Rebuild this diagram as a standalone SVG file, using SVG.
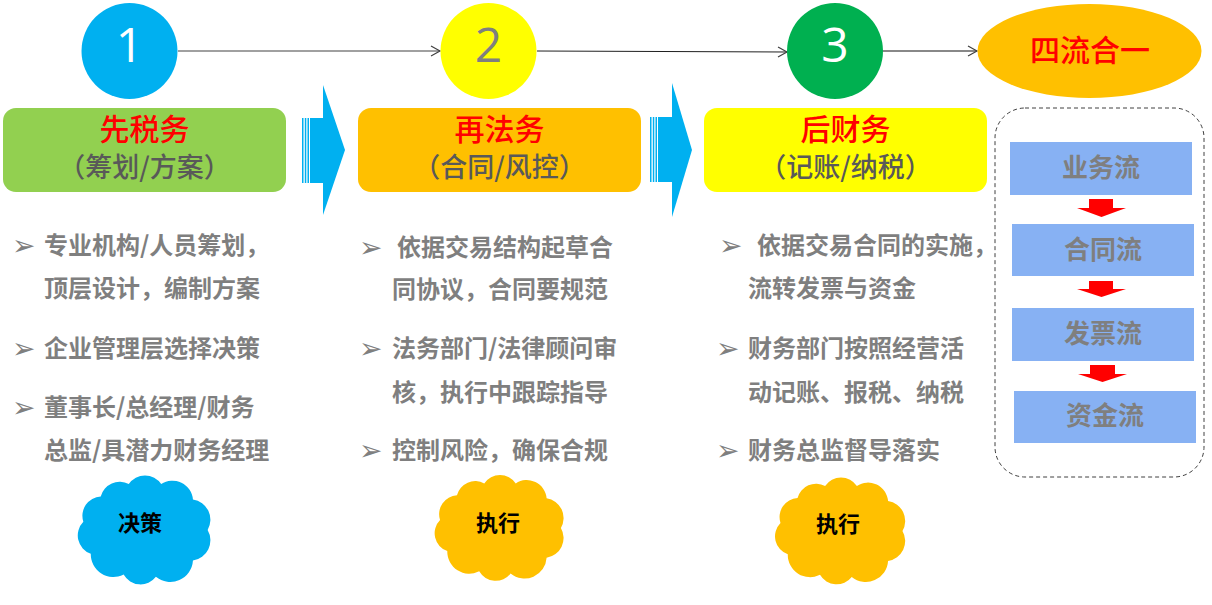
<svg xmlns="http://www.w3.org/2000/svg" width="1212" height="605" viewBox="0 0 1212 605">
<style>
.cjk{font-family:"Noto Sans CJK SC","Noto Sans",sans-serif}
.num{font-family:"Open Sans","Liberation Sans",sans-serif;font-size:48px;text-anchor:middle}
.t1{font-size:30px;font-weight:500;fill:#FF0000;text-anchor:middle}
.t2{font-size:27px;font-weight:500;fill:#595959;text-anchor:middle}
.b{font-size:24px;font-weight:bold;fill:#7F7F7F}
.bul{font-family:"DejaVu Sans",sans-serif;font-size:28px;fill:#7F7F7F}
.flow{fill:#87B1F3}
.ft{font-size:26px;font-weight:bold;fill:#7F7F7F;text-anchor:middle}
.ct{font-size:22px;font-weight:bold;fill:#000;text-anchor:middle}
.blue{fill:#00B0F0}
.red{fill:#FF0000}
</style>
<defs>
<marker id="ah" markerWidth="12" markerHeight="12" refX="10" refY="6" orient="auto" markerUnits="userSpaceOnUse">
<path d="M1,1 L10,6 L1,11" fill="none" stroke="#404040" stroke-width="1.2"/>
</marker>
<path id="cloud" d="M-57.1,-7.6 A18,18 0 0 1 -41,-31.1 A18,18 0 0 1 -15,-42.5 A18,18 0 0 1 15,-42.5 A19,19 0 0 1 44.4,-28.3 A19,19 0 0 1 58,0 A19,19 0 0 1 44.4,28.3 A21,21 0 0 1 10.1,43.3 A18,18 0 0 1 -19.8,41.3 A21,21 0 0 1 -50.2,22 A18,18 0 0 1 -57.1,-7.6 Z"/>
</defs>

<g id="connectors">
<line x1="178" y1="51" x2="440" y2="51" stroke="#808080" stroke-width="1.5" marker-end="url(#ah)"/>
<line x1="537" y1="51" x2="787" y2="52" stroke="#202020" stroke-width="1" marker-end="url(#ah)"/>
<line x1="883" y1="51" x2="977" y2="51" stroke="#606060" stroke-width="1.5" marker-end="url(#ah)"/>
</g>

<g id="circle1">
<circle cx="129.5" cy="51" r="48" fill="#00B0F0"/>
<text class="num" x="129.5" y="62" fill="#FFFFFF">1</text>
</g>
<g id="circle2">
<circle cx="488.5" cy="51" r="48" fill="#FFFF00"/>
<text class="num" x="488.5" y="62" fill="#7F7F7F">2</text>
</g>
<g id="circle3">
<circle cx="835" cy="51" r="48" fill="#00B050"/>
<text class="num" x="835" y="62" fill="#FFFFFF">3</text>
</g>
<g id="oval">
<ellipse cx="1089.5" cy="51" rx="112" ry="47" fill="#FFC000"/>
<text class="cjk" x="1090" y="61" font-size="30" font-weight="500" fill="#FF0000" text-anchor="middle">四流合一</text>
</g>

<g id="box1">
<rect x="3" y="108" width="283" height="84" rx="13" fill="#92D050"/>
<text class="cjk t1" x="144.5" y="140">先税务</text>
<text class="cjk t2" x="144.5" y="177">（筹划/方案）</text>
</g>
<g id="box2">
<rect x="358" y="108" width="283" height="84" rx="13" fill="#FFC000"/>
<text class="cjk t1" x="499.5" y="140">再法务</text>
<text class="cjk t2" x="499.5" y="177">（合同/风控）</text>
</g>
<g id="box3">
<rect x="704" y="108" width="283" height="84" rx="13" fill="#FFFF00"/>
<text class="cjk t1" x="845.5" y="140">后财务</text>
<text class="cjk t2" x="845.5" y="177">（记账/纳税）</text>
</g>

<g id="arrow1" class="blue">
<rect x="302" y="118" width="1.5" height="65"/>
<rect x="304.8" y="118" width="1.5" height="65"/>
<rect x="307.5" y="118" width="1.5" height="65"/>
<rect x="310" y="118" width="14" height="65"/>
<polygon points="323,85 345,150 323,215"/>
</g>
<g id="arrow2" class="blue">
<rect x="650" y="117" width="1.5" height="65"/>
<rect x="652.8" y="117" width="1.5" height="65"/>
<rect x="655.5" y="117" width="1.5" height="65"/>
<rect x="658" y="117" width="15" height="65"/>
<polygon points="672,83 692,150 672,217"/>
</g>

<g id="list1">
<text class="bul" x="12" y="255">➢</text>
<text class="cjk b" x="44" y="254">专业机构/人员筹划，</text>
<text class="cjk b" x="44" y="297">顶层设计，编制方案</text>
<text class="bul" x="12" y="358">➢</text>
<text class="cjk b" x="44" y="357">企业管理层选择决策</text>
<text class="bul" x="12" y="417">➢</text>
<text class="cjk b" x="44" y="416">董事长/总经理/财务</text>
<text class="cjk b" x="44" y="459">总监/具潜力财务经理</text>
</g>
<g id="list2">
<text class="bul" x="359" y="257">➢</text>
<text class="cjk b" x="397" y="256">依据交易结构起草合</text>
<text class="cjk b" x="392" y="298">同协议，合同要规范</text>
<text class="bul" x="359" y="358">➢</text>
<text class="cjk b" x="392" y="357">法务部门/法律顾问审</text>
<text class="cjk b" x="392" y="401">核，执行中跟踪指导</text>
<text class="bul" x="359" y="460">➢</text>
<text class="cjk b" x="392" y="459">控制风险，确保合规</text>
</g>
<g id="list3">
<text class="bul" x="719" y="255">➢</text>
<text class="cjk b" x="757" y="254">依据交易合同的实施，</text>
<text class="cjk b" x="748" y="297">流转发票与资金</text>
<text class="bul" x="716" y="358">➢</text>
<text class="cjk b" x="748" y="357">财务部门按照经营活</text>
<text class="cjk b" x="748" y="401">动记账、报税、纳税</text>
<text class="bul" x="716" y="460">➢</text>
<text class="cjk b" x="748" y="459">财务总监督导落实</text>
</g>

<g id="fourflows">
<rect x="995" y="108" width="209" height="369" rx="30" fill="none" stroke="#404040" stroke-width="1" stroke-dasharray="4,3"/>
<g id="flow1"><rect class="flow" x="1010" y="142" width="182" height="53"/><text class="cjk ft" x="1101" y="177">业务流</text></g>
<g id="flow2"><rect class="flow" x="1012" y="224" width="182" height="52"/><text class="cjk ft" x="1103" y="259">合同流</text></g>
<g id="flow3"><rect class="flow" x="1012" y="308" width="182" height="53"/><text class="cjk ft" x="1103" y="343">发票流</text></g>
<g id="flow4"><rect class="flow" x="1014" y="391" width="182" height="52"/><text class="cjk ft" x="1105" y="425">资金流</text></g>
<polygon class="red" points="1089,199 1113,199 1113,208 1126,208 1101.5,217 1077,208 1089,208"/>
<polygon class="red" points="1089,281 1113,281 1113,289 1126,289 1101.5,297 1077,289 1089,289"/>
<polygon class="red" points="1090,365 1115,365 1115,374 1127,374 1102.5,382 1078,374 1090,374"/>
</g>

<g id="cloud1">
<use href="#cloud" transform="translate(145,530) scale(1.08)" fill="#00B0F0"/>
<text class="cjk ct" x="140" y="531">决策</text>
</g>
<g id="cloud2">
<use href="#cloud" transform="translate(500,528) scale(1.05)" fill="#FFC000"/>
<text class="cjk ct" x="498" y="531">执行</text>
</g>
<g id="cloud3">
<use href="#cloud" transform="translate(841,531) scale(1.06)" fill="#FFC000"/>
<text class="cjk ct" x="838" y="532">执行</text>
</g>
</svg>
